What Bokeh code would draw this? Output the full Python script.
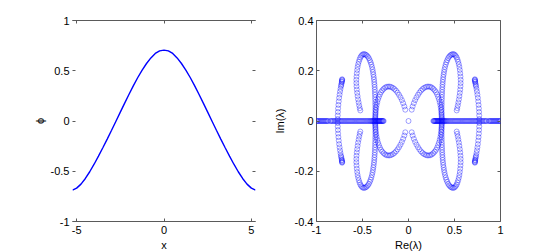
from bokeh.plotting import figure
from bokeh.models import Range1d, FixedTicker, LinearAxis
from bokeh.layouts import row
from bokeh.embed import file_html
from bokeh.resources import INLINE

# ---------------- data: left panel (profile phi(x)) ----------------
x_vals = [-5.236, -5.0, -4.75, -4.5, -4.25, -4.0, -3.75, -3.5, -3.25, -3.0,
          -2.75, -2.5, -2.25, -2.0, -1.75, -1.5, -1.25, -1.0, -0.75, -0.5,
          -0.25, 0.0, 0.25, 0.5, 0.75, 1.0, 1.25, 1.5, 1.75, 2.0, 2.25, 2.5,
          2.75, 3.0, 3.25, 3.5, 3.75, 4.0, 4.25, 4.5, 4.75, 5.0, 5.236]
phi_vals = [-0.688, -0.668, -0.628, -0.572, -0.505, -0.430, -0.350, -0.266, -0.180, -0.092,
            -0.002, 0.088, 0.178, 0.266, 0.352, 0.433, 0.507, 0.572, 0.628, 0.672,
            0.698, 0.705, 0.698, 0.672, 0.628, 0.572, 0.507, 0.433, 0.352, 0.266, 0.178, 0.088,
            -0.002, -0.092, -0.180, -0.266, -0.350, -0.430, -0.505, -0.572, -0.628, -0.668, -0.688]

loop_re = [0.362, 0.361, 0.360, 0.360, 0.360, 0.360, 0.361, 0.361, 0.362, 0.363,
           0.364, 0.365, 0.366, 0.368, 0.370, 0.372, 0.375, 0.378, 0.382, 0.386,
           0.391, 0.397, 0.404, 0.412, 0.421, 0.431, 0.442, 0.454, 0.466, 0.478,
           0.490, 0.502, 0.513, 0.523, 0.532, 0.540, 0.547, 0.553, 0.558, 0.562,
           0.565, 0.567, 0.567, 0.565, 0.562, 0.558, 0.553, 0.548, 0.542, 0.536,
           0.530, 0.524]
loop_im = [0.005, 0.015, 0.025, 0.035, 0.045, 0.055, 0.065, 0.075, 0.085, 0.095,
           0.105, 0.115, 0.125, 0.135, 0.145, 0.155, 0.165, 0.175, 0.185, 0.195,
           0.205, 0.215, 0.225, 0.234, 0.242, 0.250, 0.256, 0.261, 0.264, 0.266,
           0.266, 0.264, 0.259, 0.253, 0.245, 0.236, 0.226, 0.215, 0.203, 0.190,
           0.177, 0.164, 0.151, 0.138, 0.125, 0.112, 0.099, 0.086, 0.074, 0.062,
           0.051, 0.042]
arch_re = [0.035, 0.045, 0.058, 0.072, 0.087, 0.103, 0.119, 0.136, 0.153, 0.170,
           0.187, 0.204, 0.221, 0.238, 0.254, 0.270, 0.285, 0.299, 0.311, 0.322,
           0.331, 0.339, 0.346, 0.351, 0.355, 0.358, 0.360, 0.362]
arch_im = [0.045, 0.058, 0.071, 0.083, 0.094, 0.104, 0.113, 0.121, 0.127, 0.132,
           0.135, 0.137, 0.137, 0.136, 0.133, 0.128, 0.122, 0.115, 0.106, 0.096,
           0.086, 0.075, 0.064, 0.053, 0.042, 0.031, 0.020, 0.010]
arc_re = [0.770, 0.769, 0.767, 0.765, 0.762, 0.758, 0.754, 0.749, 0.744, 0.739,
          0.734, 0.731, 0.728, 0.725, 0.724, 0.722, 0.721, 0.722]
arc_im = [0.008, 0.022, 0.036, 0.050, 0.064, 0.078, 0.092, 0.105, 0.117, 0.128,
          0.138, 0.143, 0.149, 0.155, 0.157, 0.161, 0.164, 0.166]
real_pos = [0.270, 0.276, 0.282, 0.288, 0.294, 0.300, 0.306, 0.312, 0.318, 0.324,
            0.330, 0.336, 0.342, 0.348, 0.354, 0.360, 0.366, 0.372, 0.378, 0.385,
            0.392, 0.400, 0.410, 0.420, 0.432, 0.444, 0.456, 0.468, 0.480, 0.492,
            0.504, 0.516, 0.528, 0.540, 0.552, 0.564, 0.576, 0.588, 0.600, 0.612,
            0.624, 0.636, 0.648, 0.660, 0.672, 0.684, 0.696, 0.708, 0.720, 0.732,
            0.744, 0.756, 0.768, 0.780, 0.792, 0.804, 0.816, 0.828, 0.840, 0.850,
            0.872, 0.882, 0.892, 0.902, 0.912, 0.922, 0.932, 0.942, 0.952, 0.962,
            0.972, 0.982, 0.992, 1.000]
origin_re = [0.0]
origin_im = [0.0]

# tick values / labels
x1_ticks, x1_labels = [-5, 0, 5], ["-5", "0", "5"]
y1_ticks, y1_labels = [-1, -0.5, 0, 0.5, 1], ["-1", "-0.5", "0", "0.5", "1"]
x2_ticks, x2_labels = [-1, -0.5, 0, 0.5, 1], ["-1", "-0.5", "0", "0.5", "1"]
y2_ticks, y2_labels = [-0.4, -0.2, 0, 0.2, 0.4], ["-0.4", "-0.2", "0", "0.2", "0.4"]

# the spectrum is symmetric under conjugation and lambda -> -lambda
eig_re, eig_im = [], []
for br_re, br_im in ((loop_re, loop_im), (arch_re, arch_im), (arc_re, arc_im)):
    for sr in (1, -1):
        for si in (1, -1):
            eig_re += [sr * v for v in br_re]
            eig_im += [si * v for v in br_im]
for sr in (1, -1):
    eig_re += [sr * v for v in real_pos]
    eig_im += [0.0 for v in real_pos]
eig_re += origin_re
eig_im += origin_im

FONT = "Liberation Sans"
AXC = "#5a5a5a"


def style(ax, ticks, labels, line=True, show=True, standoff=3):
    ax.ticker = FixedTicker(ticks=ticks)
    ax.major_tick_in = 3
    ax.major_tick_out = 0
    ax.minor_tick_line_color = None
    ax.major_tick_line_color = AXC
    ax.axis_line_color = AXC if line else None
    ax.major_label_text_font = FONT
    ax.axis_label_text_font = FONT
    ax.axis_label_text_font_size = "11px"
    ax.axis_label_text_font_style = "normal"
    ax.axis_label_text_color = "black"
    if show:
        ax.major_label_overrides = dict(zip(ticks, labels))
        ax.major_label_text_font_size = "11px"
        ax.major_label_text_color = "black"
        ax.major_label_standoff = standoff
    else:
        ax.major_label_overrides = {t: "" for t in ticks}
        ax.major_label_text_font_size = "1px"
        ax.major_label_text_color = None
        ax.major_label_standoff = 0


# ---------------- left panel ----------------
p1 = figure(x_range=Range1d(-5.236, 5.236), y_range=Range1d(-1, 1),
            frame_width=183, frame_height=201,
            output_backend="svg", toolbar_location=None,
            min_border_left=72, min_border_right=15,
            min_border_top=20, min_border_bottom=31)
p1.xgrid.visible = False
p1.ygrid.visible = False
p1.outline_line_color = None
p1.line(x_vals, phi_vals, line_color="#0000ff", line_width=1.4)
style(p1.xaxis[0], x1_ticks, x1_labels, line=True, standoff=4)
style(p1.yaxis[0], y1_ticks, y1_labels, line=False, standoff=3)
p1.xaxis[0].axis_label = "x"
p1.xaxis[0].axis_label_standoff = 2
p1.yaxis[0].axis_label = "ϕ"
p1.yaxis[0].axis_label_standoff = 2
top1 = LinearAxis()
style(top1, x1_ticks, x1_labels, line=True, show=False)
p1.add_layout(top1, "above")
right1 = LinearAxis()
style(right1, y1_ticks, y1_labels, line=False, show=False)
p1.add_layout(right1, "right")

# ---------------- right panel ----------------
p2 = figure(x_range=Range1d(-1, 1), y_range=Range1d(-0.4, 0.4),
            frame_width=184, frame_height=201,
            output_backend="svg", toolbar_location=None,
            min_border_left=40, min_border_right=43,
            min_border_top=20, min_border_bottom=31)
p2.xgrid.visible = False
p2.ygrid.visible = False
p2.outline_line_color = AXC
p2.scatter(eig_re, eig_im, marker="circle", size=5, fill_color=None,
           line_color="#0000ff", line_width=0.5, line_alpha=0.75)
style(p2.xaxis[0], x2_ticks, x2_labels, line=False, standoff=4)
style(p2.yaxis[0], y2_ticks, y2_labels, line=False, standoff=3)
p2.xaxis[0].axis_label = "Re(λ)"
p2.xaxis[0].axis_label_standoff = 2
p2.yaxis[0].axis_label = "Im(λ)"
p2.yaxis[0].axis_label_standoff = 6
top2 = LinearAxis()
style(top2, x2_ticks, x2_labels, line=False, show=False)
p2.add_layout(top2, "above")
right2 = LinearAxis()
style(right2, y2_ticks, y2_labels, line=False, show=False)
p2.add_layout(right2, "right")

layout = row(p1, p2)
open("out.html", "w").write(file_html(layout, INLINE))
